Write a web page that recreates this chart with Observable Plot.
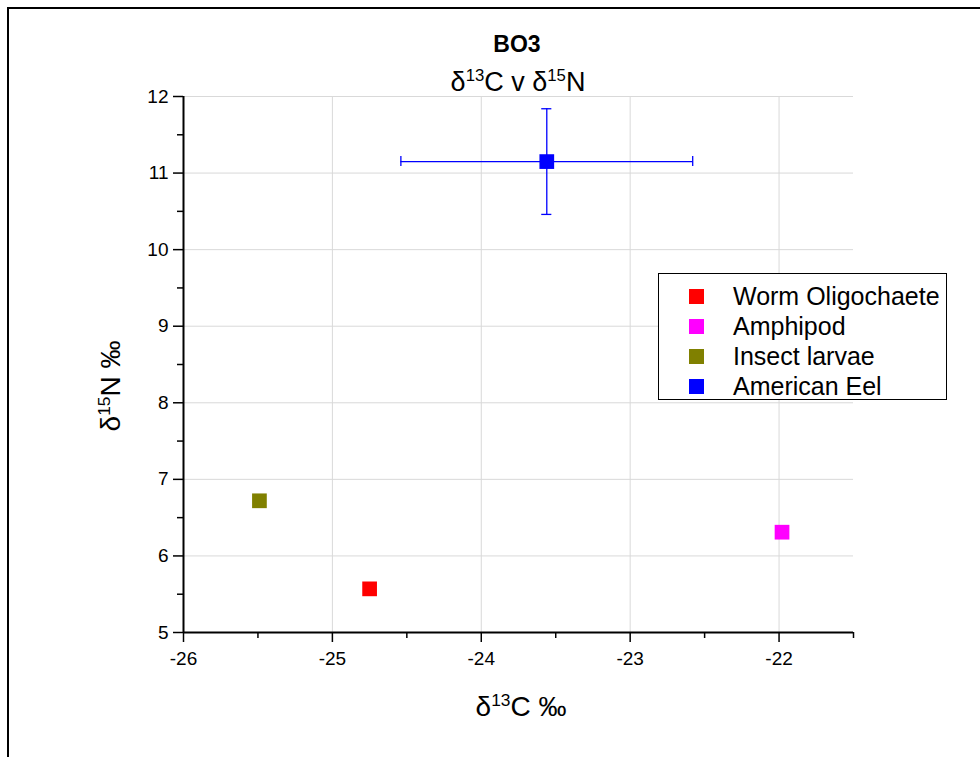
<!DOCTYPE html>
<html>
<head>
<meta charset="utf-8">
<script src="https://cdn.jsdelivr.net/npm/d3@7"></script>
<script src="https://cdn.jsdelivr.net/npm/@observablehq/plot@0.6"></script>
<style>
  html, body { margin: 0; padding: 0; background: #fff; overflow: hidden; }
  #wrap { position: relative; width: 980px; height: 757px; overflow: hidden; font-family: Arial, "Liberation Sans", sans-serif; }
  #frame { position: absolute; left: 7px; top: 7px; width: 1200px; height: 900px; border: 2px solid #000; box-sizing: border-box; pointer-events: none; }
  .txt { position: absolute; white-space: nowrap; color: #000; }
  sup { font-size: 62%; vertical-align: 0; position: relative; top: -0.6em; }
  #legend { position: absolute; left: 658px; top: 273px; width: 289px; height: 127px; border: 1px solid #000; box-sizing: border-box; background: #fff; }
  .li { position: absolute; left: 30px; height: 30px; line-height: 30px; font-size: 25px; }
  .sw { position: absolute; left: 0; top: 8px; width: 15px; height: 15px; }
  .lt { position: absolute; left: 44px; top: 0; white-space: nowrap; }
  #chart svg text { font-size: 19px; }
</style>
</head>
<body>
<div id="wrap">
  <div id="chart"></div>
  <div class="txt" id="title" style="left:0;width:1034px;text-align:center;top:31px;font-size:23px;font-weight:bold;">BO3</div>
  <div class="txt" id="subtitle" style="left:0;width:1036px;text-align:center;top:67px;font-size:27px;">&delta;<sup>13</sup>C v &delta;<sup>15</sup>N</div>
  <div class="txt" id="xlabel" style="left:0;width:1042px;text-align:center;top:691px;font-size:28px;">&delta;<sup>13</sup>C &permil;</div>
  <div class="txt" id="ylabel" style="left:111px;top:386px;font-size:28px;transform:translate(-50%,-50%) rotate(-90deg);">&delta;<sup>15</sup>N &permil;</div>
  <div id="legend"></div>
  <div id="frame"></div>
</div>
<script>
// ---- data ----
const species = ["Worm Oligochaete", "Amphipod", "Insect larvae", "American Eel"];
const colors = ["#FF0000", "#FF00FF", "#808000", "#0000FF"];
const d13C = [-24.75, -21.98, -25.49, -23.56];
const d15N = [5.57, 6.31, 6.72, 11.15];
const d13C_err = [null, null, null, 0.98];
const d15N_err = [null, null, null, 0.69];
const xMajorTicks = [-26, -25, -24, -23, -22];
const xMinorTicks = [-25.5, -24.5, -23.5, -22.5, -21.5];
const yMajorTicks = [5, 6, 7, 8, 9, 10, 11, 12];
const yMinorTicks = [5.5, 6.5, 7.5, 8.5, 9.5, 10.5, 11.5];

const pts = species.map((s, i) => ({name: s, color: colors[i], x: d13C[i], y: d15N[i], xe: d13C_err[i], ye: d15N_err[i]}));
const errs = pts.filter(d => d.xe != null);
const capY = 0.065, capX = 0.034;
const fmt = d => String(d);

const chart = Plot.plot({
  width: 980,
  height: 757,
  marginTop: 96,
  marginBottom: 125,
  marginLeft: 183,
  marginRight: 127,
  style: {fontFamily: 'Arial, "Liberation Sans", sans-serif', fontSize: "19px", background: "transparent", color: "#000"},
  x: {domain: [-26, -21.5]},
  y: {domain: [5, 12]},
  marks: [
    Plot.gridX(xMajorTicks, {stroke: "#d9d9d9", strokeOpacity: 1, strokeWidth: 1}),
    Plot.gridY(yMajorTicks, {stroke: "#d9d9d9", strokeOpacity: 1, strokeWidth: 1}),
    Plot.axisX(xMajorTicks, {tickSize: 10, tickPadding: 9, fontSize: 19, label: null, stroke: "#000", strokeWidth: 1.5, tickFormat: fmt}),
    Plot.axisX(xMinorTicks, {tickSize: 6, text: null, label: null, stroke: "#000", strokeWidth: 1.5}),
    Plot.axisY(yMajorTicks, {tickSize: 10, tickPadding: 5, fontSize: 19, label: null, stroke: "#000", strokeWidth: 1.5, tickFormat: fmt}),
    Plot.axisY(yMinorTicks, {tickSize: 6, text: null, label: null, stroke: "#000", strokeWidth: 1.5}),
    Plot.ruleX([-26], {stroke: "#000", strokeWidth: 2}),
    Plot.ruleY([5], {stroke: "#000", strokeWidth: 2}),
    // error bars
    Plot.ruleY(errs, {y: "y", x1: d => d.x - d.xe, x2: d => d.x + d.xe, stroke: "color", strokeWidth: 1.3}),
    Plot.ruleX(errs, {x: "x", y1: d => d.y - d.ye, y2: d => d.y + d.ye, stroke: "color", strokeWidth: 1.3}),
    Plot.ruleX(errs, {x: d => d.x - d.xe, y1: d => d.y - capY, y2: d => d.y + capY, stroke: "color", strokeWidth: 1.3}),
    Plot.ruleX(errs, {x: d => d.x + d.xe, y1: d => d.y - capY, y2: d => d.y + capY, stroke: "color", strokeWidth: 1.3}),
    Plot.ruleY(errs, {y: d => d.y - d.ye, x1: d => d.x - capX, x2: d => d.x + capX, stroke: "color", strokeWidth: 1.3}),
    Plot.ruleY(errs, {y: d => d.y + d.ye, x1: d => d.x - capX, x2: d => d.x + capX, stroke: "color", strokeWidth: 1.3}),
    Plot.dot(pts, {x: "x", y: "y", fill: "color", symbol: "square", r: 8.3, stroke: "none"})
  ]
});
document.getElementById("chart").appendChild(chart);

const leg = document.getElementById("legend");
species.forEach((s, i) => {
  const row = document.createElement("div");
  row.className = "li";
  row.style.top = (7 + i * 30) + "px";
  const sw = document.createElement("div");
  sw.className = "sw";
  sw.style.background = colors[i];
  const t = document.createElement("div");
  t.className = "lt";
  t.textContent = s;
  row.appendChild(sw);
  row.appendChild(t);
  leg.appendChild(row);
});
</script>
</body>
</html>
